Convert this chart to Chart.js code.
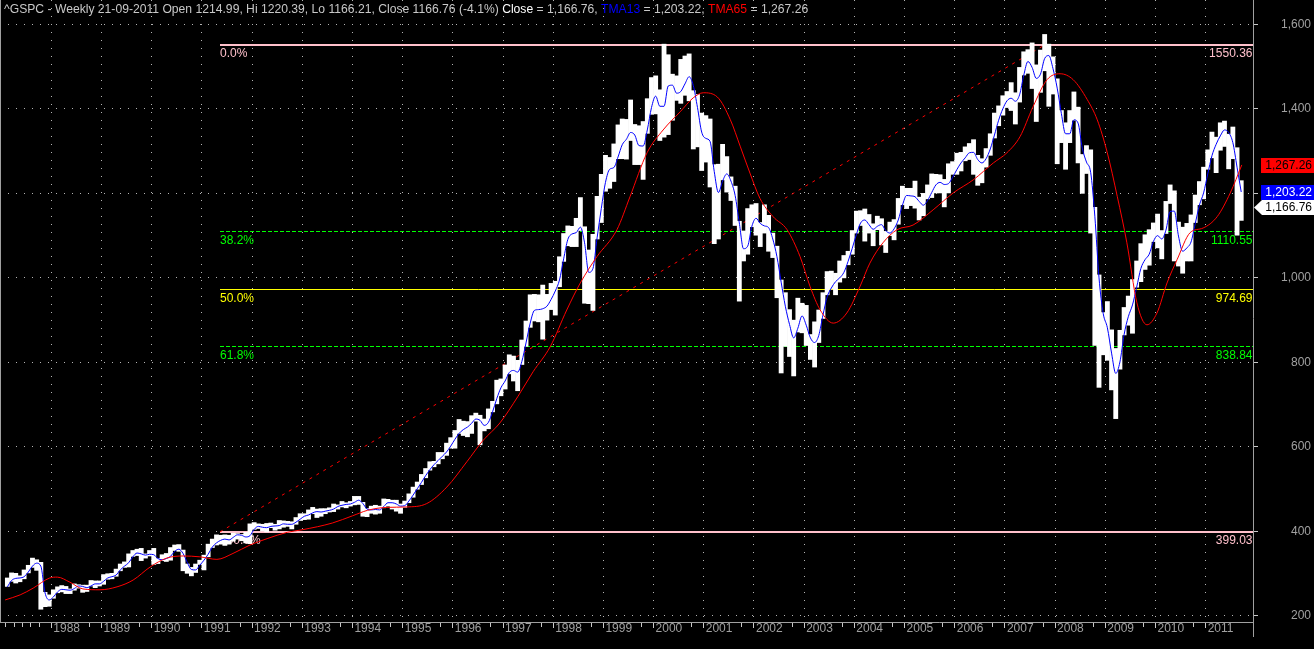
<!DOCTYPE html>
<html>
<head>
<meta charset="utf-8">
<title>^GSPC Weekly</title>
<script src="https://cdn.jsdelivr.net/npm/chart.js@4.4.0/dist/chart.umd.min.js"></script>
<style>
  html, body { margin: 0; padding: 0; background: #000; }
  #wrap { width: 1314px; height: 649px; }
  canvas { display: block; background: #000; }
</style>
</head>
<body>
<div id="wrap"><canvas id="chart" width="1314" height="649"></canvas></div>
<script>
const firstYear = 1987;
const firstMonth = 1; // Feb

const priceLow = [
  270, 282, 278, 281, 288, 302, 315, 308, 216, 222, 223,
  242, 255, 257, 253, 253, 261, 266, 256, 258, 271, 267, 271,
  275, 287, 288, 294, 307, 315, 316, 341, 343, 331, 337, 342,
  322, 324, 331, 329, 332, 355, 353, 307, 301, 295, 303, 322,
  309, 340, 362, 368, 370, 367, 370, 377, 382, 378, 373, 371,
  405, 407, 401, 399, 409, 403, 406, 410, 412, 406, 417, 426,
  428, 429, 442, 433, 436, 442, 446, 447, 453, 458, 456, 460,
  463, 464, 436, 435, 443, 441, 443, 456, 460, 453, 448, 443,
  457, 468, 481, 500, 511, 527, 545, 553, 560, 572, 580, 597,
  597, 632, 627, 624, 632, 661, 605, 638, 643, 683, 702, 721,
  737, 773, 756, 733, 795, 838, 883, 898, 896, 855, 900, 925,
  912, 979, 1039, 1076, 1074, 1074, 1112, 940, 939, 923, 1092, 1131,
  1205, 1212, 1228, 1282, 1282, 1281, 1325, 1268, 1268, 1233, 1342, 1387,
  1388, 1325, 1333, 1339, 1373, 1420, 1413, 1432, 1419, 1305, 1310, 1254,
  1274, 1215, 1081, 1092, 1232, 1203, 1183, 1124, 945, 1040, 1056, 1121,
  1101, 1074, 1106, 1063, 1048, 953, 775, 838, 814, 768, 872, 870,
  840, 807, 789, 847, 904, 960, 974, 960, 990, 1000, 1031, 1056,
  1106, 1124, 1087, 1106, 1076, 1114, 1078, 1060, 1100, 1090, 1127, 1173,
  1164, 1171, 1165, 1137, 1147, 1187, 1190, 1201, 1201, 1168, 1201, 1245,
  1245, 1253, 1277, 1280, 1245, 1219, 1225, 1262, 1290, 1331, 1360, 1385,
  1403, 1396, 1364, 1416, 1480, 1484, 1448, 1370, 1439, 1490, 1406, 1435,
  1270, 1320, 1257, 1320, 1373, 1272, 1200, 1247, 1106, 840, 741, 818,
  805, 735, 667, 784, 865, 888, 869, 978, 991, 1020, 1030, 1086,
  1071, 1045, 1105, 1176, 1040, 1028, 1011, 1040, 1040, 1131, 1173, 1187,
  1257, 1284, 1249, 1302, 1311, 1258, 1282, 1101, 1136
];

const priceHigh = [
  290, 302, 301, 295, 309, 320, 337, 333, 327, 256, 250,
  262, 269, 272, 270, 264, 276, 274, 273, 273, 284, 283, 283,
  298, 300, 301, 311, 323, 328, 347, 355, 358, 360, 347, 355,
  360, 336, 345, 348, 362, 368, 369, 356, 323, 315, 323, 332,
  344, 370, 382, 392, 391, 392, 391, 396, 395, 393, 398, 418,
  421, 418, 417, 419, 420, 417, 426, 425, 424, 423, 433, 442,
  442, 451, 457, 453, 454, 454, 456, 465, 463, 471, 468, 471,
  483, 483, 469, 454, 460, 462, 460, 477, 476, 474, 474, 465,
  472, 489, 505, 517, 535, 549, 565, 566, 587, 587, 609, 622,
  639, 665, 661, 660, 674, 680, 675, 666, 690, 708, 758, 761,
  794, 818, 815, 805, 853, 898, 960, 961, 960, 983, 961, 987,
  992, 1050, 1105, 1123, 1122, 1141, 1190, 1121, 1066, 1103, 1193, 1245,
  1290, 1285, 1317, 1362, 1376, 1375, 1421, 1363, 1360, 1370, 1424, 1474,
  1478, 1445, 1553, 1528, 1482, 1478, 1517, 1525, 1530, 1443, 1434, 1390,
  1384, 1376, 1268, 1269, 1316, 1287, 1239, 1217, 1134, 1111, 1164, 1173,
  1176, 1131, 1173, 1148, 1106, 1075, 995, 965, 925, 900, 952, 940,
  935, 866, 896, 924, 965, 1015, 1016, 1011, 1040, 1053, 1063, 1112,
  1158, 1159, 1163, 1150, 1128, 1146, 1140, 1110, 1132, 1138, 1188, 1217,
  1212, 1212, 1229, 1191, 1200, 1220, 1246, 1245, 1244, 1233, 1270, 1275,
  1295, 1297, 1310, 1318, 1327, 1290, 1282, 1306, 1341, 1390, 1407, 1431,
  1441, 1462, 1438, 1498, 1535, 1540, 1556, 1504, 1539, 1576, 1553, 1523,
  1471, 1396, 1367, 1396, 1440, 1404, 1292, 1313, 1303, 1167, 1007, 918,
  944, 877, 833, 876, 930, 957, 996, 1040, 1081, 1102, 1114, 1130,
  1151, 1112, 1181, 1220, 1206, 1132, 1120, 1129, 1149, 1196, 1228, 1262,
  1303, 1345, 1333, 1367, 1371, 1340, 1357, 1308, 1230
];

// TMA13 (blue), same months
const tma13 = [
  269, 284, 289, 290, 293, 304, 318, 325, 318, 255, 238,
  245, 257, 263, 262, 261, 265, 271, 270, 267, 271, 276, 276,
  282, 290, 293, 297, 309, 318, 326, 340, 349, 347, 344, 346,
  345, 336, 333, 336, 341, 353, 358, 348, 327, 310, 309, 320,
  332, 346, 363, 373, 379, 382, 380, 386, 392, 391, 387, 390,
  405, 412, 410, 409, 412, 413, 414, 418, 417, 417, 422, 429,
  436, 439, 444, 447, 446, 448, 450, 453, 459, 462, 464, 465,
  469, 474, 466, 453, 451, 452, 451, 459, 468, 468, 465, 460,
  461, 472, 486, 501, 516, 532, 546, 558, 568, 578, 588, 602,
  618, 632, 641, 647, 656, 666, 663, 651, 658, 683, 714, 740,
  756, 776, 781, 777, 802, 846, 893, 923, 925, 927, 933, 949,
  969, 995, 1045, 1091, 1104, 1107, 1120, 1083, 1013, 1022, 1095, 1164,
  1226, 1257, 1261, 1286, 1315, 1328, 1344, 1338, 1313, 1312, 1350, 1403,
  1430, 1406, 1406, 1454, 1456, 1437, 1441, 1459, 1476, 1455, 1403, 1345,
  1330, 1323, 1252, 1202, 1229, 1246, 1229, 1195, 1130, 1069, 1075, 1122,
  1141, 1129, 1123, 1119, 1092, 1050, 990, 933, 890, 858, 881, 910,
  888, 858, 847, 864, 912, 955, 976, 991, 1000, 1013, 1039, 1070,
  1103, 1130, 1137, 1126, 1115, 1122, 1126, 1112, 1106, 1116, 1137, 1172,
  1195, 1194, 1192, 1181, 1172, 1183, 1202, 1220, 1226, 1221, 1223, 1238,
  1256, 1272, 1284, 1296, 1297, 1280, 1272, 1282, 1305, 1338, 1373, 1400,
  1419, 1425, 1418, 1433, 1479, 1512, 1498, 1472, 1482, 1519, 1526, 1495,
  1449, 1389, 1341, 1341, 1374, 1366, 1307, 1274, 1250, 1146, 1000, 916,
  882, 822, 774, 801, 866, 908, 936, 978, 1022, 1043, 1056, 1086,
  1100, 1092, 1113, 1157, 1158, 1099, 1063, 1071, 1085, 1128, 1172, 1201,
  1246, 1289, 1316, 1336, 1350, 1344, 1320, 1262, 1203.22
];

// TMA65 (red), read at these dates
const tma65Years = [
  1987.08, 1987.38, 1987.64, 1987.97, 1988.12, 1988.37, 1988.63, 1988.97,
  1989.31, 1989.63, 1989.97, 1990.30, 1990.63, 1990.96, 1991.30, 1991.62,
  1991.96, 1992.30, 1992.70, 1993.00, 1993.60, 1994.00, 1994.30, 1994.68,
  1995.08, 1995.48, 1995.88, 1996.28, 1996.60, 1996.94, 1997.30, 1997.60,
  1997.94, 1998.27, 1998.54, 1998.87, 1999.27, 1999.53, 1999.87, 2000.19,
  2000.53, 2000.79, 2000.99, 2001.27, 2001.53, 2001.73, 2001.92, 2002.12,
  2002.38, 2002.66, 2002.92, 2003.12, 2003.32, 2003.58, 2003.85, 2004.11,
  2004.31, 2004.57, 2004.85, 2005.17, 2005.57, 2005.97, 2006.37, 2006.77,
  2007.04, 2007.30, 2007.56, 2007.84, 2008.10, 2008.36, 2008.64, 2008.84,
  2009.04, 2009.24, 2009.43, 2009.63, 2009.83, 2010.03, 2010.23, 2010.43,
  2010.69, 2010.95, 2011.23, 2011.49, 2011.72
];
const tma65 = [
  238, 250, 266, 290, 292, 280, 264, 262,
  269, 285, 316, 337, 342, 340, 334, 348,
  368, 383, 398, 404, 420, 437, 450, 457,
  458, 466, 505, 565, 615, 657, 720, 778,
  837, 924, 988, 1050, 1114, 1192, 1296, 1350,
  1393, 1426, 1438, 1428, 1374, 1310, 1248, 1188,
  1145, 1114, 1050, 979, 924, 893, 917, 979,
  1035, 1083, 1114, 1125, 1161, 1201, 1232, 1272,
  1296, 1334, 1405, 1469, 1483, 1469, 1422, 1374,
  1296, 1192, 1083, 941, 889, 917, 988, 1043,
  1107, 1118, 1145, 1201, 1267.26
];

const yearTicks = [1988, 1989, 1990, 1991, 1992, 1993, 1994, 1995, 1996, 1997, 1998, 1999,
  2000, 2001, 2002, 2003, 2004, 2005, 2006, 2007, 2008, 2009, 2010, 2011];
const priceTicks = [200, 400, 600, 800, 1000, 1200, 1400, 1600];

const fibLevels = [1550.36, 1110.55, 974.69, 838.84, 399.03];
const fibNames = ['0.0%', '38.2%', '50.0%', '61.8%', '100.0%'];
const fibFrom = 1991.36;
const fibTo = 2007.78;

const lastBar = { date: '21-09-2011', open: 1214.99, high: 1220.39, low: 1166.21, close: 1166.76, change: -4.1 };

// styles
const FONT = 'Arial, "Liberation Sans", sans-serif';
const fibStyles = [
  { color: '#ffc0cb', width: 2, dash: [] },
  { color: '#00ff00', width: 1, dash: [4, 2] },
  { color: '#ffff00', width: 1, dash: [] },
  { color: '#00ff00', width: 1, dash: [4, 2] },
  { color: '#ffc0cb', width: 2, dash: [] }
];
const axisColor = '#a0a0a0';
const gridColor = '#b4b4b4';
const labelColor = '#a0a0a0';

const monthX = i => firstYear + (firstMonth + i + 0.5) / 12;
const fmt = v => v.toLocaleString('en-US', { minimumFractionDigits: 2, maximumFractionDigits: 2 });

const bars = priceLow.map((lo, i) => ({ x: monthX(i), y: [lo, priceHigh[i]] }));
const blue = tma13.map((v, i) => ({ x: monthX(i), y: v }));
const red = tma65.map((v, i) => ({ x: tma65Years[i], y: v }));

const minorTicks = [1987.08, 1987.25, 1987.42, 1987.58, 1987.75]
  .concat(yearTicks.slice(0, -1).map(y => y + 0.75));

const overlay = {
  id: 'overlay',
  beforeDatasetsDraw(chart) {
    const { ctx, chartArea: a, scales: { x, y } } = chart;
    const x0 = Math.round(x.getPixelForValue(fibFrom));
    ctx.save();
    ctx.font = '12px ' + FONT;
    fibLevels.forEach((lv, i) => {
      const st = fibStyles[i];
      const py = Math.round(y.getPixelForValue(lv)) + (st.width % 2 ? 0.5 : 0);
      ctx.strokeStyle = st.color;
      ctx.lineWidth = st.width;
      ctx.setLineDash(st.dash);
      ctx.beginPath();
      ctx.moveTo(x0, py);
      ctx.lineTo(a.right, py);
      ctx.stroke();
      ctx.fillStyle = st.color;
      ctx.textBaseline = 'alphabetic';
      ctx.textAlign = 'left';
      ctx.fillText(fibNames[i], x0, py + 12);
      ctx.textAlign = 'right';
      ctx.fillText(lv.toFixed(2), a.right - 0.5, py + 12);
    });
    // dotted trend line from the low to the high
    ctx.strokeStyle = '#ff0000';
    ctx.lineWidth = 1;
    ctx.setLineDash([3, 5]);
    ctx.beginPath();
    ctx.moveTo(x0, y.getPixelForValue(fibLevels[4]));
    ctx.lineTo(x.getPixelForValue(fibTo), y.getPixelForValue(fibLevels[0]));
    ctx.stroke();
    ctx.restore();
  },
  afterDraw(chart) {
    const { ctx, chartArea: a, scales: { x, y } } = chart;
    ctx.save();
    ctx.lineWidth = 1;
    ctx.setLineDash([]);
    ctx.strokeStyle = axisColor;
    ctx.beginPath();
    ctx.moveTo(0.5, 0); ctx.lineTo(0.5, a.bottom);
    ctx.moveTo(0, a.bottom + 0.5); ctx.lineTo(a.right, a.bottom + 0.5);
    ctx.moveTo(a.right + 0.5, 0); ctx.lineTo(a.right + 0.5, a.bottom + 15);
    ctx.stroke();

    ctx.strokeStyle = '#c8c8c8';
    ctx.beginPath();
    minorTicks.forEach(v => {
      const px = Math.round(x.getPixelForValue(v)) + 0.5;
      ctx.moveTo(px, a.bottom + 1);
      ctx.lineTo(px, a.bottom + 5);
    });
    ctx.stroke();

    // last values on the price axis
    ctx.font = '12px ' + FONT;
    ctx.textAlign = 'right';
    ctx.textBaseline = 'middle';
    const badges = [
      { v: tma65[tma65.length - 1], bg: '#ff0000', fg: '#000000' },
      { v: tma13[tma13.length - 1], bg: '#0000ff', fg: '#ffffff' },
      { v: lastBar.close, bg: '#ffffff', fg: '#000000', arrow: true }
    ];
    badges.forEach(b => {
      const py = Math.round(y.getPixelForValue(b.v));
      ctx.fillStyle = b.bg;
      ctx.beginPath();
      if (b.arrow) {
        ctx.moveTo(a.right + 1, py + 0.5);
        ctx.lineTo(a.right + 9, py - 7);
        ctx.lineTo(chart.width, py - 7);
        ctx.lineTo(chart.width, py + 8);
        ctx.lineTo(a.right + 9, py + 8);
        ctx.closePath();
      } else {
        ctx.rect(a.right + 8, py - 7, chart.width - a.right - 8, 15);
      }
      ctx.fill();
      ctx.fillStyle = b.fg;
      ctx.fillText(fmt(b.v), chart.width - 2, py + 1);
    });

    // header line
    const parts = [
      ['^GSPC - Weekly ' + lastBar.date + ' Open ' + lastBar.open + ', Hi ' + lastBar.high +
        ', Lo ' + lastBar.low + ', Close ' + lastBar.close + ' (' + lastBar.change + '%) ', '#c8c8c8'],
      ['Close', '#ffffff'],
      [' = ' + fmt(lastBar.close) + ', ', '#c8c8c8'],
      ['TMA13', '#0000ff'],
      [' = ' + fmt(tma13[tma13.length - 1]) + ', ', '#c8c8c8'],
      ['TMA65', '#ff0000'],
      [' = ' + fmt(tma65[tma65.length - 1]), '#c8c8c8']
    ];
    ctx.font = '12.15px ' + FONT;
    ctx.textAlign = 'left';
    ctx.textBaseline = 'alphabetic';
    let tx = 4;
    parts.forEach(([s, c]) => {
      ctx.fillStyle = c;
      ctx.fillText(s, tx, 13);
      tx += ctx.measureText(s).width;
    });
    ctx.restore();
  }
};

Chart.defaults.font.family = FONT;
Chart.defaults.font.size = 12;

new Chart(document.getElementById('chart'), {
  type: 'bar',
  data: {
    datasets: [
      {
        type: 'bar', label: '^GSPC', data: bars, order: 3,
        backgroundColor: '#ffffff', borderWidth: 0,
        barPercentage: 1, categoryPercentage: 1, grouped: false
      },
      {
        type: 'line', label: 'TMA13', data: blue, order: 2,
        borderColor: '#0000ff', borderWidth: 1, pointRadius: 0,
        cubicInterpolationMode: 'monotone'
      },
      {
        type: 'line', label: 'TMA65', data: red, order: 1,
        borderColor: '#ff0000', borderWidth: 1, pointRadius: 0,
        cubicInterpolationMode: 'monotone'
      }
    ]
  },
  options: {
    responsive: false,
    animation: false,
    events: [],
    layout: { padding: { left: 0, top: 0, right: 3, bottom: 0 } },
    plugins: { legend: { display: false }, tooltip: { enabled: false } },
    scales: {
      x: {
        type: 'linear', position: 'bottom', min: 1986.978, max: 2011.943,
        offset: false,
        afterBuildTicks: s => { s.ticks = yearTicks.map(v => ({ value: v })); },
        afterFit: s => { s.height = 27; s.paddingLeft = 0; s.paddingRight = 0; },
        grid: { color: gridColor, offset: false, tickLength: 6, tickColor: '#c8c8c8' },
        border: { display: false, dash: [1, 7] },
        ticks: {
          color: labelColor, align: 'start', labelOffset: 2, padding: -7,
          autoSkip: false, maxRotation: 0, callback: v => String(v)
        }
      },
      y: {
        type: 'linear', position: 'right', min: 185.8, max: 1657.5, beginAtZero: false,
        afterBuildTicks: s => { s.ticks = priceTicks.map(v => ({ value: v })); },
        afterFit: s => { s.width = 58; s.paddingTop = 0; s.paddingBottom = 0; },
        grid: { color: gridColor, tickLength: 5, tickColor: '#c8c8c8' },
        border: { display: false, dash: [1, 7] },
        ticks: { color: labelColor, crossAlign: 'far', callback: v => v.toLocaleString('en-US') }
      }
    }
  },
  plugins: [overlay]
});
</script>
</body>
</html>
